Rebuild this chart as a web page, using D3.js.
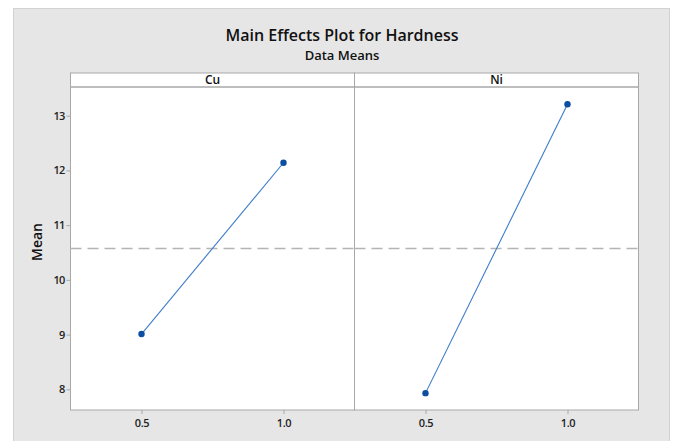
<!DOCTYPE html>
<html><head><meta charset="utf-8">
<script src="https://cdn.jsdelivr.net/npm/d3@7/dist/d3.min.js"></script>
<style>body{margin:0;background:#fff;}svg{display:block;}</style>
</head><body>
<svg id="c" width="675" height="441"></svg>
<script>
const factors = ["Cu", "Ni"];
const levels = [0.5, 1.0];
const levelLabels = ["0.5", "1.0"];
const cuMeans = [9.01, 12.14];
const niMeans = [7.93, 13.21];
const yTicks = [8, 9, 10, 11, 12, 13];
const title = "Main Effects Plot for Hardness";
const subtitle = "Data Means";
const yLabel = "Mean";

const seriesMeans = [cuMeans, niMeans];
const allVals = cuMeans.concat(niMeans);
const grandMean = d3.mean(allVals);

const svg = d3.select("#c");
const font = "'Open Sans','Noto Sans',sans-serif";

// background
svg.append("rect").attr("x", 13.5).attr("y", 8.5).attr("width", 656).attr("height", 440)
  .attr("fill", "#e6e6e6").attr("stroke", "#d2d2d2").attr("stroke-width", 1);

const pLeft = 70.5, pRight = 638.5, pTop = 87, pBottom = 410, stripTop = 73;
const panelW = (pRight - pLeft) / factors.length;

const y = d3.scaleLinear().domain([8, 13]).range([389.3, 115.7]);

// title
svg.append("text").attr("x", 342).attr("y", 40.5).attr("text-anchor", "middle")
  .attr("font-family", font).attr("font-size", 16).attr("font-weight", 600).attr("fill", "#111")
  .text(title);
svg.append("text").attr("x", 342).attr("y", 59.5).attr("text-anchor", "middle")
  .attr("font-family", font).attr("font-size", 13).attr("font-weight", 600).attr("fill", "#111")
  .text(subtitle);

// plot area white
svg.append("rect").attr("x", pLeft).attr("y", stripTop).attr("width", pRight - pLeft).attr("height", pBottom - stripTop)
  .attr("fill", "#fff");

factors.forEach((f, i) => {
  const x0 = pLeft + i * panelW;
  const x = d3.scaleLinear().domain([0.25, 1.25]).range([x0, x0 + panelW]);
  const g = svg.append("g");
  // strip
  g.append("rect").attr("x", x0).attr("y", stripTop).attr("width", panelW).attr("height", pTop - stripTop)
    .attr("fill", "#fff").attr("stroke", "#a8a8a8").attr("stroke-width", 1);
  g.append("text").attr("x", x0 + panelW / 2).attr("y", pTop - 3).attr("text-anchor", "middle")
    .attr("font-family", font).attr("font-size", 12).attr("font-weight", 600).attr("fill", "#111").text(f);
  // panel border
  g.append("rect").attr("x", x0).attr("y", pTop).attr("width", panelW).attr("height", pBottom - pTop)
    .attr("fill", "none").attr("stroke", "#a8a8a8").attr("stroke-width", 1);
  // x axis
  const xAxis = d3.axisBottom(x).tickValues(levels).tickSize(4).tickFormat((d, k) => levelLabels[k]);
  const xa = g.append("g").attr("transform", `translate(0,${pBottom})`).call(xAxis);
  xa.select(".domain").remove();
  xa.selectAll("line").attr("stroke", "#a8a8a8");
  xa.selectAll("text").attr("font-family", font).attr("font-size", 11).attr("font-weight", 600)
    .attr("fill", "#222").attr("dy", "0.95em").attr("letter-spacing", "-0.4");
  // reference line
  g.append("line").attr("x1", x0).attr("x2", x0 + panelW).attr("y1", y(grandMean)).attr("y2", y(grandMean))
    .attr("stroke", "#b4b4b4").attr("stroke-width", 1.5).attr("stroke-dasharray", "11,6");
  // line
  const pts = levels.map((l, k) => [l, seriesMeans[i][k]]);
  g.append("path").datum(pts)
    .attr("d", d3.line().x(d => x(d[0])).y(d => y(d[1])))
    .attr("fill", "none").attr("stroke", "#3d7cc9").attr("stroke-width", 1.1);
  g.selectAll("circle.pt").data(pts).enter().append("circle")
    .attr("cx", d => x(d[0])).attr("cy", d => y(d[1])).attr("r", 3.2).attr("fill", "#0b4ea2");
});

// y axis
const yAxis = d3.axisLeft(y).tickValues(yTicks).tickSize(4).tickFormat(d3.format("d"));
const ya = svg.append("g").attr("transform", `translate(${pLeft},0)`).call(yAxis);
ya.select(".domain").remove();
ya.selectAll("line").attr("stroke", "#a8a8a8");
ya.selectAll("text").attr("font-family", font).attr("font-size", 11).attr("font-weight", 600)
  .attr("fill", "#222").attr("x", -6).attr("letter-spacing", "-0.8");

svg.append("text").attr("transform", "translate(42,242) rotate(-90)").attr("text-anchor", "middle")
  .attr("font-family", font).attr("font-size", 14).attr("font-weight", 600).attr("fill", "#111").text(yLabel);
</script>
</body></html>
